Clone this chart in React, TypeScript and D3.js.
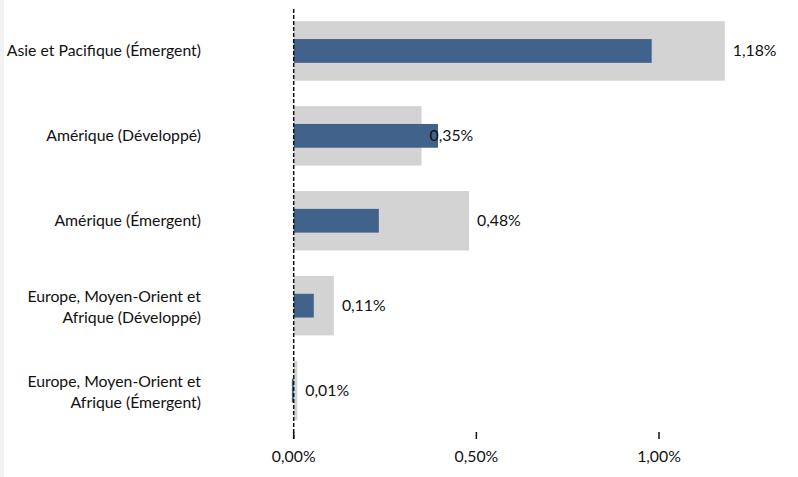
import React from "react";
import * as d3 from "d3";

const categories: string[][] = [
  ["Asie et Pacifique (Émergent)"],
  ["Amérique (Développé)"],
  ["Amérique (Émergent)"],
  ["Europe, Moyen-Orient et", "Afrique (Développé)"],
  ["Europe, Moyen-Orient et", "Afrique (Émergent)"],
];
const benchmarkValues = [1.18, 0.35, 0.48, 0.11, 0.01];
const portfolioValues = [0.98, 0.395, 0.233, 0.055, -0.005];
const tickValues = [0, 0.5, 1.0];

const W = 798;
const H = 477;
const FONT = "Lato, 'Open Sans', sans-serif";
const FS = 15.8;

const fmt = (v: number) => v.toFixed(2).replace(".", ",") + "%";

export default function App() {
  const x = d3.scaleLinear().domain([0, 1]).range([293.7, 659]);
  const y = d3
    .scaleBand<number>()
    .domain(categories.map((_, i) => i))
    .range([8.5, 433])
    .paddingInner(0.3)
    .paddingOuter(0.15);
  const bw = y.bandwidth();
  const blueH = bw * 0.4;

  return (
    <svg
      width={W}
      height={H}
      style={{ position: "absolute", left: 0, top: 0, background: "#fff" }}
      fontFamily={FONT}
    >
      <rect x={0} y={0} width={4} height={H} fill="#f2f2f2" />
      {categories.map((lines, i) => {
        const y0 = y(i)!;
        const cy = y0 + bw / 2;
        const g = benchmarkValues[i];
        const p = portfolioValues[i];
        const lh = 20.5;
        return (
          <g key={i}>
            <rect
              x={Math.min(x(0), x(g))}
              y={y0}
              width={Math.abs(x(g) - x(0))}
              height={bw}
              fill="#d3d3d3"
            />
            <rect
              x={Math.min(x(0), x(p))}
              y={cy - blueH / 2}
              width={Math.max(Math.abs(x(p) - x(0)), 1.5)}
              height={blueH}
              fill="#41628b"
            />
            <text
              x={x(Math.max(g, 0)) + 8}
              y={cy}
              dy="0.35em"
              fontSize={FS}
              fill="#111"
            >
              {fmt(g)}
            </text>
            {lines.map((ln, j) => (
              <text
                key={j}
                x={201}
                y={cy + (j - (lines.length - 1) / 2) * lh + (lines.length > 1 ? 1.5 : 0)}
                dy="0.35em"
                textAnchor="end"
                fontSize={FS}
                fill="#111"
              >
                {ln}
              </text>
            ))}
          </g>
        );
      })}
      <line
        x1={x(0)}
        x2={x(0)}
        y1={9}
        y2={439}
        stroke="#111"
        strokeWidth={1.5}
        strokeDasharray="4,2"
      />
      {tickValues.map((t) => (
        <g key={t}>
          <line x1={x(t)} x2={x(t)} y1={432} y2={439} stroke="#111" strokeWidth={1.5} />
          <text
            x={x(t)}
            y={456}
            dy="0.35em"
            textAnchor="middle"
            fontSize={FS}
            fill="#111"
          >
            {fmt(t)}
          </text>
        </g>
      ))}
    </svg>
  );
}
